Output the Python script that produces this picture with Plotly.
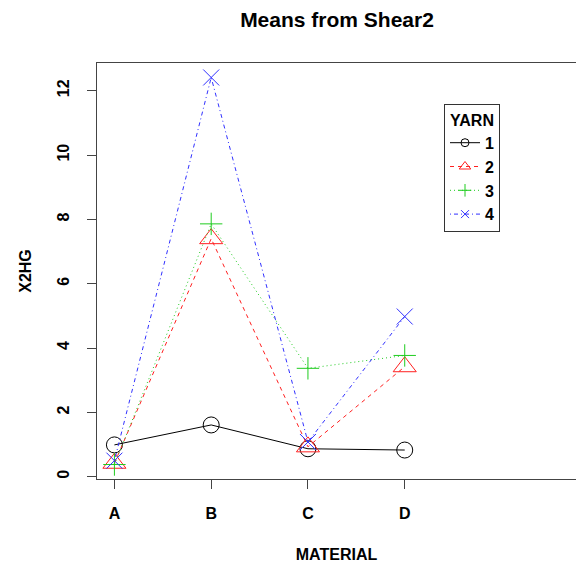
import plotly.graph_objects as go

# Cell means of X2HG by MATERIAL and YARN
materials = ["A", "B", "C", "D"]
material_pos = [1, 2, 3, 4]
yarns = ["1", "2", "3", "4"]
yarn1 = [0.99, 1.61, 0.87, 0.83]
yarn2 = [0.42, 7.40, 0.93, 3.42]
yarn3 = [0.38, 7.86, 3.37, 3.77]
yarn4 = [0.50, 12.41, 1.08, 4.98]

series = [yarn1, yarn2, yarn3, yarn4]
colors = ["#000000", "#FF2020", "#1FCC1F", "#3030FF"]
dashes = ["solid", "4px,4px", "1px,3px", "1px,3px,4px,3px"]
symbols = ["circle-open", "triangle-up-open", "cross-thin-open", "x-thin-open"]
sizes = [16, 20, 16, 16]
legend_sizes = [8, 10, 9, 8]

FONT = "Liberation Sans, Arial, sans-serif"

fig = go.Figure()
for name, vals, col, dash, sym, sz in zip(yarns, series, colors, dashes, symbols, sizes):
    fig.add_trace(go.Scatter(
        x=material_pos, y=vals, name=name, legendgroup=name, showlegend=False,
        mode="lines+markers",
        line=dict(color=col, width=1, dash=dash),
        marker=dict(symbol=sym, size=sz, color=col, line=dict(color=col, width=1)),
        hoverinfo="skip",
    ))

# legend keys use smaller symbols than the plotted points
for name, col, dash, sym, sz in zip(yarns, colors, dashes, symbols, legend_sizes):
    fig.add_trace(go.Scatter(
        x=[None], y=[None], name=name, legendgroup=name, showlegend=True,
        mode="lines+markers",
        line=dict(color=col, width=1, dash=dash),
        marker=dict(symbol=sym, size=sz, color=col, line=dict(color=col, width=1)),
        hoverinfo="skip",
    ))

fig.update_layout(
    width=576, height=565,
    margin=dict(l=97, r=0, t=63, b=86),
    paper_bgcolor="white", plot_bgcolor="white",
    font=dict(family=FONT, color="black"),
    title=dict(text="Means from Shear2", x=337 / 576, xanchor="center",
               y=1 - 20 / 565, yanchor="middle",
               font=dict(size=21, weight="bold", family=FONT)),
    legend=dict(
        x=(444 - 97) / 479, y=(479 - 104) / 416, xanchor="left", yanchor="top",
        bordercolor="#333333", borderwidth=1, bgcolor="white",
        font=dict(size=16, weight="bold", family=FONT),
        title=dict(text="YARN", side="top center",
                   font=dict(size=16, weight="bold", family=FONT)),
        tracegroupgap=0,
    ),
    showlegend=True,
)

fig.update_xaxes(
    range=[0.82, 5.77], tickmode="array", tickvals=material_pos, ticktext=materials,
    showline=True, linecolor="#444444", linewidth=1, mirror=True,
    ticks="outside", ticklen=9, tickcolor="#444444", tickwidth=1,
    showgrid=False, zeroline=False,
    tickfont=dict(size=16, weight="bold", family=FONT),
    ticklabelstandoff=11,
    title=dict(text="MATERIAL", standoff=27,
               font=dict(size=16, weight="bold", family=FONT)),
)
fig.update_yaxes(
    range=[-0.07, 12.86], tickmode="array", tickvals=[0, 2, 4, 6, 8, 10, 12],
    tickangle=-90,
    showline=True, linecolor="#444444", linewidth=1, mirror=False,
    ticks="outside", ticklen=9, tickcolor="#444444", tickwidth=1,
    showgrid=False, zeroline=False,
    tickfont=dict(size=16, weight="bold", family=FONT),
    ticklabelstandoff=12,
    title=dict(text="X2HG", standoff=18,
               font=dict(size=16, weight="bold", family=FONT)),
)

fig.write_html("out.html")
